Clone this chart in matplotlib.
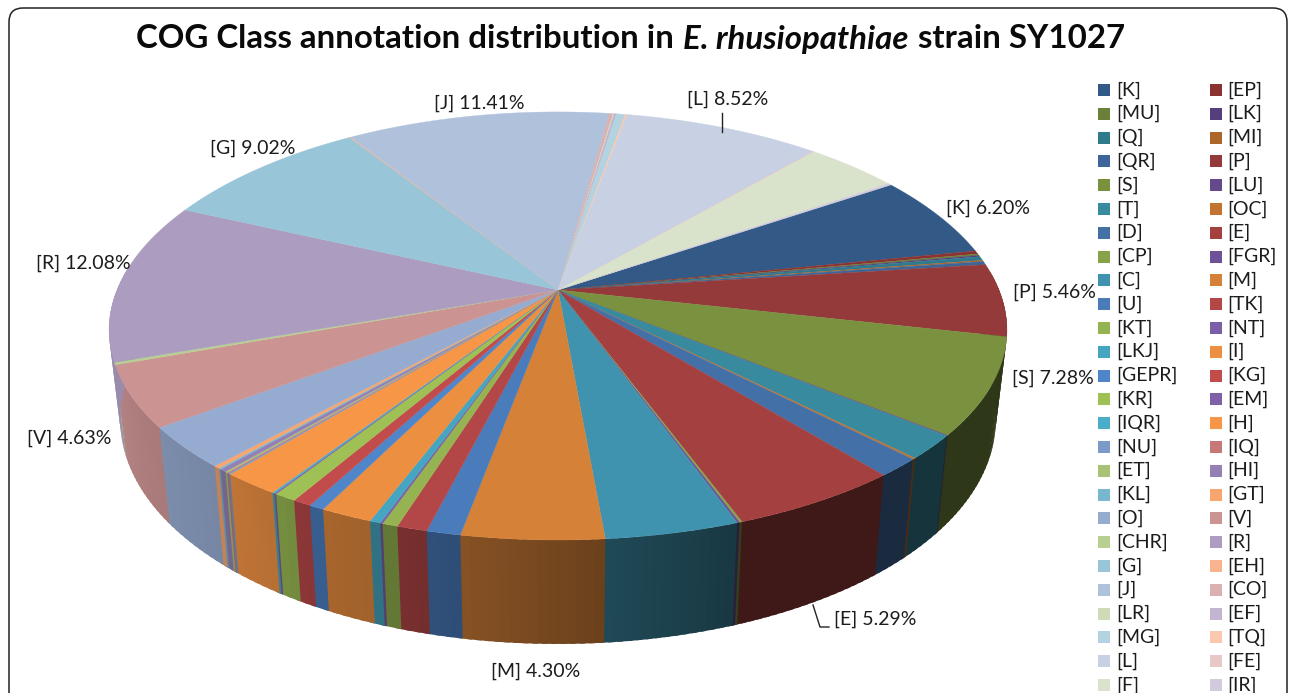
import numpy as np
import matplotlib
matplotlib.use("Agg")
import matplotlib.pyplot as plt
from matplotlib.collections import PolyCollection
from matplotlib.colors import to_rgb
from matplotlib.patches import FancyBboxPatch, Rectangle

# ---- data: slices in drawing order (clockwise) ----
classes = ["K","EP","MU","LK","Q","MI","QR","P","S","LU","T","OC","D","E","CP","FGR",
           "C","M","U","TK","KT","NT","LKJ","I","GEPR","KG","KR","EM","IQR","H","NU","IQ",
           "ET","HI","KL","GT","O","V","CHR","R","G","EH","J","CO","LR","EF","MG","TQ",
           "L","FE","F","IR"]
percent = [6.20,0.25,0.12,0.10,0.30,0.10,0.25,5.46,7.28,0.05,1.80,0.10,1.40,5.29,0.08,0.08,
           4.05,4.30,1.03,0.92,0.47,0.08,0.33,1.60,0.47,0.58,0.69,0.06,0.08,1.78,0.08,0.06,
           0.08,0.22,0.08,0.20,3.14,4.63,0.18,12.08,9.02,0.05,11.41,0.15,0.05,0.10,0.38,0.08,
           8.52,0.06,4.00,0.13]
colors = ["#335a86","#8b3232","#6b7f38","#553f7c","#2f7a8c","#ad662a","#3c6699","#943a3a",
          "#7a9140","#644a8a","#388a9f","#c27330","#4470a8","#a54040","#87a34a","#6d5297",
          "#3f93ae","#d58138","#4a7bbb","#b34646","#95b351","#7a5ea6","#46a6c2","#ed8f40",
          "#4f85c9","#c24c4c","#9fc055","#8060a8","#4baec8","#f79646","#7b9ac8","#c67878",
          "#a8c378","#9580b5","#75b8cf","#f8a56f","#96abd0","#cc9393","#b8cf92","#ac9cc0",
          "#98c5d7","#f9b48f","#b0c1dc","#dcb0b0","#cfdbb8","#c1b5d1","#b3d3e0","#fbc8ae",
          "#c8d0e3","#e6c8c8","#d9e2cb","#d1cbdd"]
legend_left = ["K","MU","Q","QR","S","T","D","CP","C","U","KT","LKJ","GEPR","KR","IQR","NU",
               "ET","KL","O","CHR","G","J","LR","MG","L","F"]
legend_right = ["EP","LK","MI","P","LU","OC","E","FGR","M","TK","NT","I","KG","EM","H","IQ",
                "HI","GT","V","R","EH","CO","EF","TQ","FE","IR"]
labelled = ["J","L","G","K","R","P","S","V","E","M"]

# ---- layout ----
label_pos = {"J":(479,103),"L":(728,99),"G":(253,148),"K":(988,208),"R":(83,263),
             "P":(1054,292),"S":(1053,378),"V":(69,438),"E":(875,619),"M":(536,671)}
CX, CY, A, B, K = 558, 290, 441, 208, 0.168
START = 56.5

def top_xy(theta):
    t = np.radians(theta)
    u, v = np.sin(t), -np.cos(t)
    w = 1 - K * v
    return CX + A * (1 + 0.02 * v) * u / w, CY + B * v / w

def bottom_xy(theta):
    x, y = top_xy(theta)
    return CX + (x - CX) * 0.975, y + 90 + 0.068 * (y - 335)

def shade(theta):
    a = (theta % 360)
    return np.interp(a, [90,160,175,190,200,210,220,235,250,270],
                     [.38,.38,.50,.63,.68,.72,.78,.83,.88,.90])

plt.rcParams["font.family"] = ["Lato", "DejaVu Sans"]
fig = plt.figure(figsize=(12.9, 6.93), dpi=100)
ax = fig.add_axes([0, 0, 1, 1])
ax.set_xlim(0, 1290); ax.set_ylim(693, 0); ax.axis("off")

ax.add_patch(FancyBboxPatch((9, 8), 1278, 760, boxstyle="round,pad=0,rounding_size=14",
                            fc="none", ec="#222222", lw=1.1, clip_on=True))

vals = np.array(percent, float)
edges = START + np.concatenate([[0], np.cumsum(vals)]) * 360 / vals.sum()

# side wall: quads overlap the next one, which is painted over them, so no seams show
wall_polys, wall_cols = [], []
for i, c in enumerate(colors):
    n = max(2, int((edges[i+1] - edges[i]) / 1.0) + 1)
    ts = np.linspace(edges[i], edges[i+1], n)
    rgb = np.array(to_rgb(c))
    for t0, t1 in zip(ts[:-1], ts[1:]):
        tm = (t0 + t1) / 2 % 360
        if not 85 < tm < 275:
            continue
        t1x = t1 + 0.6
        x0, y0 = top_xy(t0); x1, y1 = top_xy(t1x)
        x2, y2 = bottom_xy(t1x); x3, y3 = bottom_xy(t0)
        wall_polys.append([(x0,y0),(x1,y1),(x2,y2),(x3,y3)])
        wall_cols.append(tuple(rgb * shade(tm)))
ax.add_collection(PolyCollection(wall_polys, facecolors=wall_cols, edgecolors="none",
                                 linewidths=0, zorder=2))

# top surface
top_polys = []
for i in range(len(colors)):
    ts = np.linspace(edges[i], edges[i+1], max(3, int(edges[i+1] - edges[i]) * 2 + 2))
    xs, ys = top_xy(ts)
    top_polys.append([(CX, CY)] + list(zip(xs, ys)))
ax.add_collection(PolyCollection(top_polys, facecolors=colors, edgecolors=colors,
                                 linewidths=0.25, zorder=3))

# labels and leader lines
TXT = "#1c1c1c"
for name in labelled:
    p = percent[classes.index(name)]
    x, y = label_pos[name]
    ax.text(x, y, f"[{name}] {p:.2f}%", ha="center", va="center", fontsize=14, color=TXT, zorder=5)
ax.plot([722, 722], [113, 132], color="#222222", lw=1, zorder=4)
ax.plot([813, 820, 829], [605, 627, 627], color="#222222", lw=1, zorder=4)

# legend
for col, (names, xm, xt) in enumerate([(legend_left, 1098, 1116), (legend_right, 1210, 1227)]):
    for r, name in enumerate(names):
        y = 90 + r * 23.8
        ax.add_patch(Rectangle((xm, y - 6), 12, 12, fc=colors[classes.index(name)], ec="none", zorder=5))
        ax.text(xt, y, f"[{name}]", ha="left", va="center", fontsize=14, color=TXT, zorder=5)

# title
fig.canvas.draw()
r = fig.canvas.get_renderer()
parts = [("COG Class annotation distribution in", "normal"), ("E. rhusiopathiae", "italic"), ("strain SY1027", "normal")]
tobjs = [ax.text(0, 39, s, fontsize=23.75, fontweight="bold", style=st, color="#0a0a0a", va="center", ha="left") for s, st in parts]
widths = [t.get_window_extent(r).width for t in tobjs]
gap = 9
x = 630.5 - (sum(widths) + 2 * gap) / 2
for t, w in zip(tobjs, widths):
    t.set_x(x); x += w + gap

fig.savefig("out.png", dpi=100)
